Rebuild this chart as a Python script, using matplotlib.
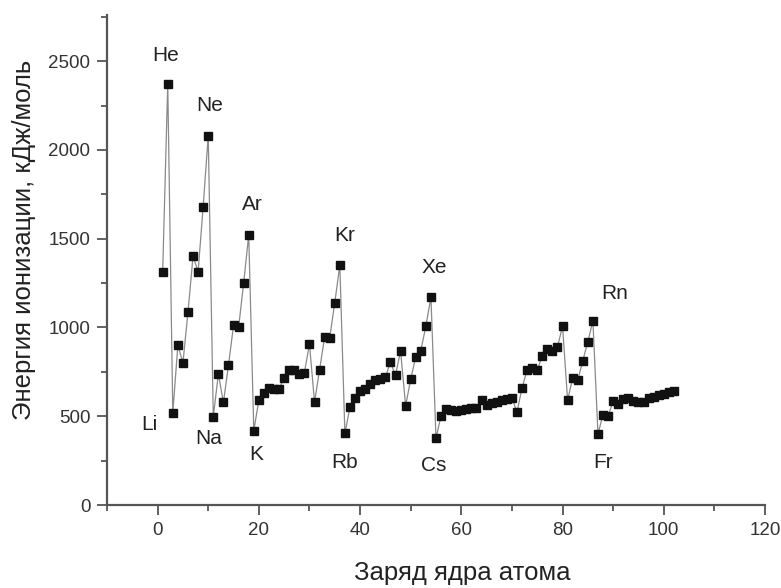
import matplotlib
matplotlib.use("Agg")
import matplotlib.pyplot as plt
from matplotlib.ticker import MultipleLocator

plt.rcParams['font.family'] = ['Liberation Sans', 'DejaVu Sans']

# Atomic number (nuclear charge) and first ionization energy, kJ/mol
Z = list(range(1, 103))
energy = [
    1312, 2372, 520, 899, 801, 1086, 1402, 1314, 1681, 2081,   # 1-10
    496, 738, 578, 787, 1012, 1000, 1251, 1521, 419, 590,      # 11-20
    633, 659, 651, 653, 717, 763, 760, 737, 746, 906,          # 21-30
    579, 762, 947, 941, 1140, 1351, 403, 550, 600, 640,        # 31-40
    652, 684, 702, 710, 720, 804, 731, 868, 558, 709,          # 41-50
    834, 869, 1008, 1170, 376, 503, 538, 534, 527, 533,        # 51-60
    540, 545, 547, 593, 566, 573, 581, 589, 597, 603,          # 61-70
    524, 659, 761, 770, 760, 840, 880, 870, 890, 1007,         # 71-80
    589, 716, 703, 812, 920, 1037, 400, 509, 499, 587,         # 81-90
    568, 598, 605, 585, 578, 581, 601, 608, 619, 627,          # 91-100
    635, 642,                                                  # 101-102
]

# Element labels and their positions (data coordinates)
labels = ['He', 'Ne', 'Ar', 'Kr', 'Xe', 'Rn', 'Li', 'Na', 'K', 'Rb', 'Cs', 'Fr']
label_x = [1.6, 10.2, 18.8, 37.0, 54.6, 90.4, -1.6, 10.0, 19.4, 37.0, 54.6, 88.0]
label_y = [2530, 2250, 1690, 1520, 1340, 1190, 455, 375, 285, 240, 225, 240]

xlabel = 'Заряд ядра атома'
ylabel = 'Энергия ионизации, кДж/моль'

fig = plt.figure(figsize=(7.81, 5.88), dpi=100)
ax_w = 765 - 107
ax_h = 505 - 15
ax = fig.add_axes([107/781, 1 - 505/588, ax_w/781, ax_h/588])

spine_col = '#555555'
ax.plot(Z, energy, '-', color='#8a8a8a', lw=0.9, zorder=2)
ax.plot(Z, energy, 's', color='#111111', ms=6.2, mec='#111111', zorder=3)

for t, x, y in zip(labels, label_x, label_y):
    ax.text(x, y, t, fontsize=15, ha='center', va='center', color='#222222')

ax.set_xlim(-10, 120)
ax.set_ylim(0, 2760)
ax.xaxis.set_major_locator(MultipleLocator(20))
ax.xaxis.set_minor_locator(MultipleLocator(10))
ax.yaxis.set_major_locator(MultipleLocator(500))
ax.yaxis.set_minor_locator(MultipleLocator(250))

for s in ['top', 'right']:
    ax.spines[s].set_visible(False)
for s in ['left', 'bottom']:
    ax.spines[s].set_color(spine_col)
    ax.spines[s].set_linewidth(1.6)

ax.tick_params(which='major', direction='out', length=7, width=1.3, color=spine_col,
               labelsize=13.5, labelcolor='#333333', pad=5)
ax.tick_params(which='minor', direction='out', length=4, width=1.3, color=spine_col)

ax.set_xlabel(xlabel, fontsize=18.5, color='#222222')
ax.set_ylabel(ylabel, fontsize=18.5, color='#222222')
ax.xaxis.label.set_va('center')
ax.yaxis.label.set_va('center')
ax.xaxis.set_label_coords((462 - 107) / ax_w, -(573 - 505) / ax_h)
ax.yaxis.set_label_coords(-(107 - 24) / ax_w, (505 - 240) / ax_h)

fig.savefig('out.png', dpi=100)
